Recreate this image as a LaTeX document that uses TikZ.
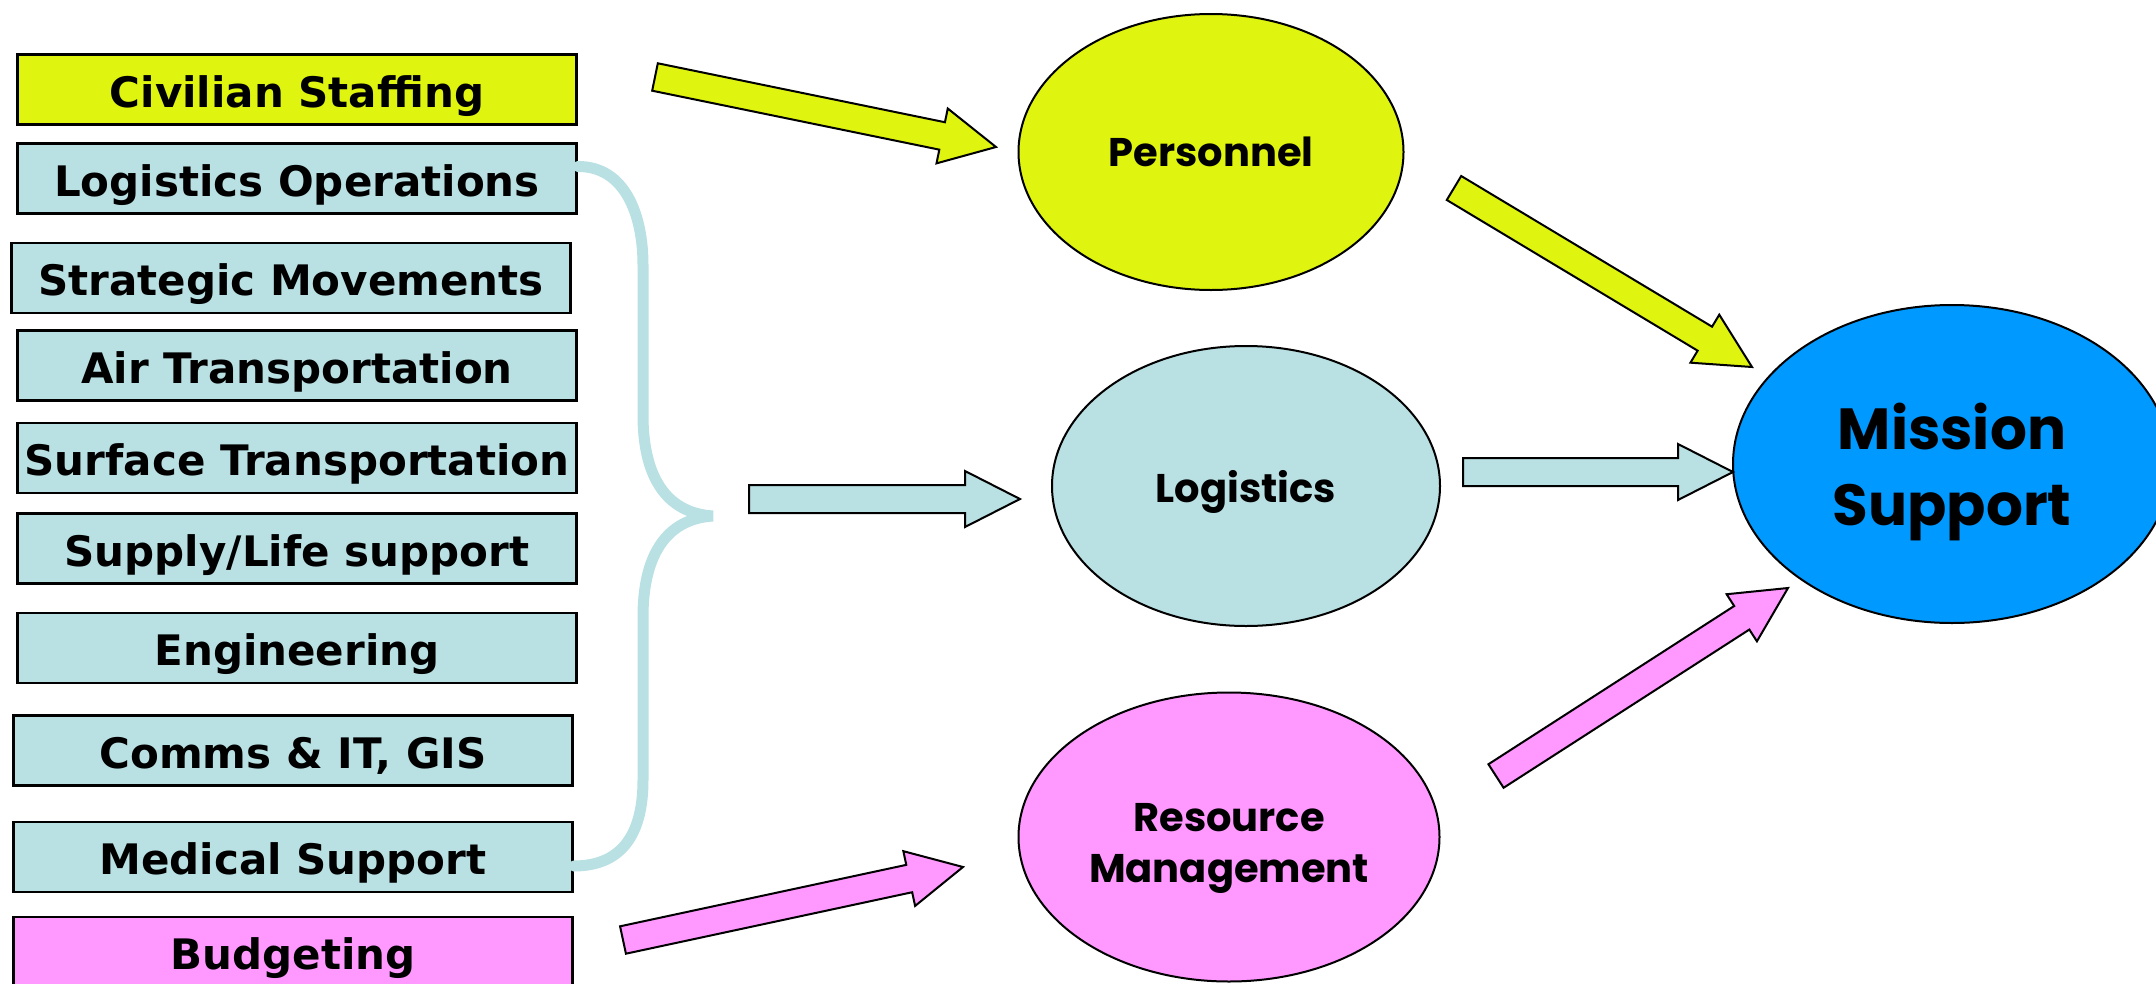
\documentclass[tikz,border=0pt]{standalone}
\usepackage{fontspec}
\setmainfont{DejaVu Sans}
\newfontfamily\gothic{Poppins}
\usepackage{tikz}
\usetikzlibrary{shapes, calc, arrows.meta}

\definecolor{lime}{RGB}{223,244,15}
\definecolor{paleblue}{RGB}{185,224,227}
\definecolor{pink}{RGB}{255,153,255}
\definecolor{skyblue}{RGB}{0,153,255}

% block arrow from tail #2 to tip #3, style #1
\newcommand{\fatarrow}[3]{%
  \coordinate (hb) at ($(#3)!55pt!(#2)$);
  \draw [#1] ($(#2)!14pt!90:(#3)$) -- ($(hb)!14pt!90:(#3)$) -- ($(hb)!28pt!90:(#3)$)
    -- (#3) -- ($(hb)!28pt!-90:(#3)$) -- ($(hb)!14pt!-90:(#3)$) -- ($(#2)!14pt!-90:(#3)$) -- cycle;
}

\begin{document}
\begin{tikzpicture}[x=1pt, y=-1pt]
\useasboundingbox (0,0) rectangle (2156,983);
\clip (0,0) rectangle (2156,983);

\begin{scope}[every node/.style={draw=black, line width=2.2pt, minimum width=559pt, minimum height=70pt,
              inner sep=0pt, text height=35.5pt, text depth=0pt, font=\fontsize{42}{50}\selectfont\bfseries}]
    \node [fill=lime] (A) at (297,89.5) {Civilian Staffing};
    \node [fill=paleblue] (B) at (297,178.5) {Logistics Operations};
    \node [fill=paleblue] (C) at (291,278) {Strategic Movements};
    \node [fill=paleblue] (D) at (297,365.5) {Air Transportation};
    \node [fill=paleblue] (E) at (297,458) {Surface Transportation};
    \node [fill=paleblue] (F) at (297,548.5) {Supply/Life support};
    \node [fill=paleblue] (G) at (297,648) {Engineering};
    \node [fill=paleblue] (H) at (293,750.5) {Comms \& IT, GIS};
    \node [fill=paleblue] (I) at (293,857) {Medical Support};
    \node [fill=pink] (J) at (293,952) {Budgeting};
\end{scope}

\begin{scope}[every node/.style={ellipse, draw=black, line width=2pt, inner sep=0pt, align=center,
              font=\gothic\fontsize{40}{51}\selectfont\bfseries}]
    \node [fill=lime, minimum width=385pt, minimum height=276pt] (P) at (1211,152) {Personnel};
    \node [fill=paleblue, minimum width=388pt, minimum height=280pt, text depth=-3pt] (L) at (1246,486) {Logistics};
    \node [fill=pink, minimum width=421pt, minimum height=289pt, text height=90pt, text depth=0pt] (R) at (1229,837) {Resource\\Management};
    \node [fill=skyblue, minimum width=438pt, minimum height=318pt, text depth=-7pt,
           font=\gothic\fontsize{58}{76}\selectfont\bfseries] (M) at (1952,464) {Mission\\Support};
\end{scope}

% brace
\coordinate (T) at (713,516);
\draw [paleblue, line width=11pt, line cap=round]
    ([yshift=12pt]B.east) .. controls (625,166) and (643,215) .. (643,265) -- (643,415)
    .. controls (643,475) and (665,513) .. (T)
    .. controls (665,519) and (643,557) .. (643,617) -- (643,780)
    .. controls (643,830) and (625,866) .. ([yshift=-9pt]I.east);

% block arrows
\begin{scope}[every path/.style={draw=black, line width=2pt, line join=miter}]
    \coordinate (a1) at (655,77);   \coordinate (b1) at (996,147);
    \coordinate (a2) at (1454,188); \coordinate (b2) at (1752,367);
    \coordinate (a3) at (749,499);  \coordinate (b3) at (1020,499);
    \coordinate (a4) at (1463,472); \coordinate (b4) at (1733,472);
    \coordinate (a5) at (623,940);  \coordinate (b5) at (963,867);
    \coordinate (a6) at (1496,776); \coordinate (b6) at (1788,588);
    \fatarrow{fill=lime}{a1}{b1}
    \fatarrow{fill=lime}{a2}{b2}
    \fatarrow{fill=paleblue}{a3}{b3}
    \fatarrow{fill=paleblue}{a4}{b4}
    \fatarrow{fill=pink}{a5}{b5}
    \fatarrow{fill=pink}{a6}{b6}
\end{scope}
\end{tikzpicture}
\end{document}
